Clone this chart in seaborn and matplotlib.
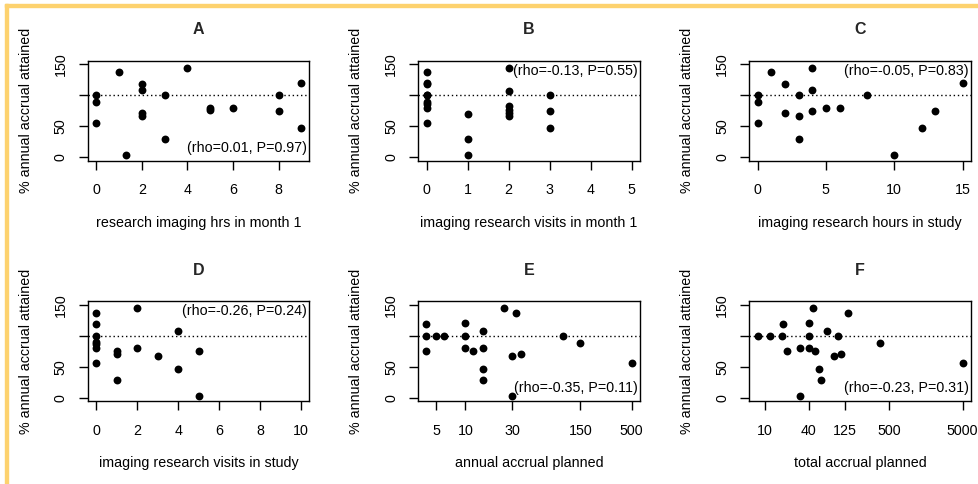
import numpy as np
import pandas as pd
import seaborn as sns
import matplotlib.pyplot as plt
from matplotlib.patches import Rectangle
from matplotlib.ticker import FixedLocator, NullLocator

sns.set_style("white")
plt.rcParams['font.family'] = ['Liberation Sans', 'DejaVu Sans']

#panel data: x values and % annual accrual attained
a_x = [0, 0, 0, 1, 1.3, 2, 2, 2, 2, 3, 3, 4, 5, 5, 6, 8, 8, 9, 9]
a_y = [100, 89, 56, 137, 3, 119, 108, 71, 67, 100, 29, 144, 80, 76, 80, 100, 75, 120, 47]

b_x = [0, 0, 0, 0, 0, 0, 0, 0, 0, 1, 1, 1, 2, 2, 2, 2, 2, 2, 3, 3, 3]
b_y = [137, 120, 118, 100, 100, 90, 86, 80, 56, 70, 29, 3, 144, 107, 82, 76, 71, 67, 100, 75, 47]

c_x = [0, 0, 0, 1, 2, 2, 3, 3, 3, 4, 4, 4, 5, 6, 8, 10, 12, 13, 15]
c_y = [100, 89, 56, 137, 119, 71, 100, 67, 29, 144, 108, 75, 80, 80, 100, 3, 47, 75, 120]

d_x = [0, 0, 0, 0, 0, 0, 0, 1, 1, 1, 2, 2, 3, 4, 4, 5, 5]
d_y = [137, 119, 100, 90, 86, 80, 56, 75, 71, 29, 145, 80, 67, 107, 46, 75, 3]

e_x = [4, 4, 4, 5, 6, 10, 10, 10, 12, 15, 15, 15, 15, 25, 30, 30, 33, 37, 100, 150, 500]
e_y = [119, 100, 75, 100, 100, 120, 100, 80, 75, 107, 80, 46, 29, 145, 67, 3, 137, 71, 100, 89, 56]

f_x = [8, 12, 17, 18, 20, 30, 30, 40, 40, 40, 45, 49, 55, 59, 70, 88, 100, 110, 137, 373, 5000]
f_y = [100, 100, 100, 119, 75, 80, 3, 120, 100, 80, 145, 75, 46, 29, 107, 67, 100, 71, 137, 89, 56]

titles = ["A", "B", "C", "D", "E", "F"]
xlabels = ["research imaging hrs in month 1", "imaging research visits in month 1",
           "imaging research hours in study", "imaging research visits in study",
           "annual accrual planned", "total accrual planned"]
stats = ["(rho=0.01, P=0.97)", "(rho=-0.13, P=0.55)", "(rho=-0.05, P=0.83)",
         "(rho=-0.26, P=0.24)", "(rho=-0.35, P=0.11)", "(rho=-0.23, P=0.31)"]
stat_top = [False, True, True, True, False, False]
xticks = [[0, 2, 4, 6, 8], [0, 1, 2, 3, 4, 5], [0, 5, 10, 15],
          [0, 2, 4, 6, 8, 10], [5, 10, 30, 150, 500], [10, 40, 125, 500, 5000]]
xlims = [(-0.36, 9.36), (-0.2, 5.2), (-0.6, 15.6), (-0.4, 10.4), (3.30, 607), (6.18, 6470)]
logx = [False, False, False, False, True, True]
xs = [a_x, b_x, c_x, d_x, e_x, f_x]
ys = [a_y, b_y, c_y, d_y, e_y, f_y]

W, H = 979, 484
fig = plt.figure(figsize=(W / 100, H / 100), dpi=100)

lefts = [88, 418.3, 749.3]
tops = [60.6, 301]
w, h = 221.5, 100.4
fs = 10.3

for i in range(6):
    r, c = divmod(i, 3)
    ax = fig.add_axes([lefts[c] / W, (H - tops[r] - h) / H, w / W, h / H])
    df = pd.DataFrame({"x": xs[i], "y": ys[i]})
    sns.scatterplot(data=df, x="x", y="y", ax=ax, color="black", s=32,
                    edgecolor="black", linewidth=0, zorder=3)
    ax.axhline(100, color="black", lw=1, ls=(0, (1, 2)), zorder=2)
    if logx[i]:
        ax.set_xscale("log")
    ax.set_xlim(*xlims[i])
    ax.set_ylim(-6, 156)
    ax.xaxis.set_major_locator(FixedLocator(xticks[i]))
    ax.xaxis.set_minor_locator(NullLocator())
    ax.set_xticklabels([str(t) for t in xticks[i]])
    ax.set_yticks([0, 50, 100, 150])
    ax.set_yticklabels(["0", "50", "", "150"], rotation=90, va="center")
    ax.tick_params(axis="both", direction="out", length=6.5, width=1,
                   color="black", labelsize=fs, labelcolor="black",
                   bottom=True, left=True)
    ax.tick_params(axis="x", pad=9.5)
    ax.tick_params(axis="y", pad=8)
    for sp in ax.spines.values():
        sp.set_visible(True)
        sp.set_color("black")
        sp.set_linewidth(1)
    ax.set_xlabel(xlabels[i], fontsize=fs, labelpad=13.5, color="black")
    ax.set_ylabel("% annual accrual attained", fontsize=fs, labelpad=15, color="black")
    ax.set_title(titles[i], fontsize=11.5, fontweight="bold", pad=19)
    if stat_top[i]:
        ax.text(0.99, 0.90, stats[i], transform=ax.transAxes, ha="right",
                va="center", fontsize=fs, color="black")
    else:
        ax.text(0.99, 0.13, stats[i], transform=ax.transAxes, ha="right",
                va="center", fontsize=fs, color="black")

#yellow frame strips on top and left
fig.patches.append(Rectangle((5 / W, 0), 3 / W, 1 - 4 / H, transform=fig.transFigure,
                             color="#FDD26E", zorder=0))
fig.patches.append(Rectangle((5 / W, 1 - 7 / H), 1 - 5 / W, 3 / H, transform=fig.transFigure,
                             color="#FDD26E", zorder=0))

fig.savefig("out.png", dpi=100)
